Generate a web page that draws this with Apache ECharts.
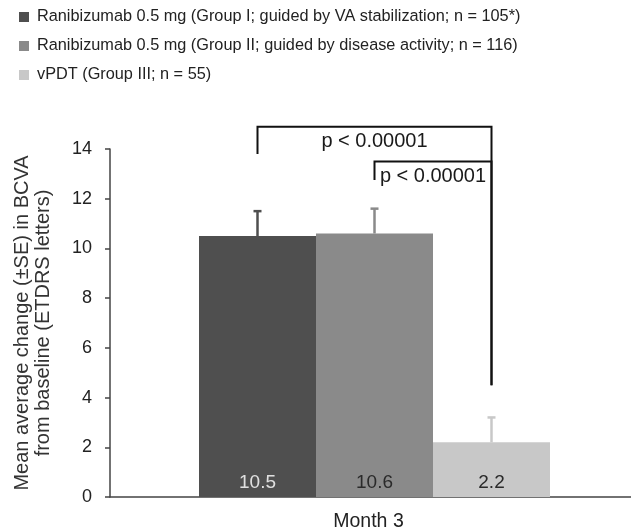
<!DOCTYPE html>
<html>
<head>
<meta charset="utf-8">
<script src="https://cdn.jsdelivr.net/npm/echarts@6/dist/echarts.min.js"></script>
<style>
  html, body { margin: 0; padding: 0; background: #fff; }
  #chart { width: 631px; height: 531px; }
</style>
</head>
<body>
<div id="chart"></div>
<script>
// 数据
var categories = ['Month 3'];
var groupNames = [
  'Ranibizumab 0.5 mg (Group I; guided by VA stabilization; n = 105*)',
  'Ranibizumab 0.5 mg (Group II; guided by disease activity; n = 116)',
  'vPDT (Group III; n = 55)'
];
var groupMeans = [10.5, 10.6, 2.2];
var groupSE = [1.0, 1.0, 1.0];
var groupColors = ['#4f4f4f', '#8a8a8a', '#c8c8c8'];
var labelColors = ['#e0e0e0', '#2a2a2a', '#2a2a2a'];
var yTicks = [0, 2, 4, 6, 8, 10, 12, 14];
// 显著性括号: [起始组, 结束组, 横线高度, 左脚底端, 右脚底端]
var brackets = [
  [0, 2, 14.9, 13.8, 4.5],
  [1, 2, 13.5, 12.75, 4.5]
];
var bracketLabels = ['p < 0.00001', 'p < 0.00001'];

var FONT = 'Liberation Sans, Arial, sans-serif';
var BAR_W = 117;

var chart = echarts.init(document.getElementById('chart'));

// 组内偏移 (三根柱子紧挨着)
function barOffset(idx) {
  return (idx - (groupNames.length - 1) / 2) * BAR_W;
}

var series = [];
groupNames.forEach(function (name, i) {
  series.push({
    name: name,
    type: 'bar',
    barWidth: BAR_W,
    barGap: '0%',
    itemStyle: { color: groupColors[i] },
    label: {
      show: true,
      position: 'insideBottom',
      distance: 5,
      fontSize: 19,
      fontFamily: FONT,
      color: labelColors[i],
      formatter: function (p) { return p.value.toFixed(1); }
    },
    data: [groupMeans[i]]
  });
});

// 误差线
series.push({
  type: 'custom',
  name: 'errors',
  silent: true,
  z: 5,
  data: groupMeans.map(function (m, i) { return [0, m, groupSE[i], i]; }),
  renderItem: function (params, api) {
    var idx = api.value(3);
    var base = api.coord([api.value(0), api.value(1)]);
    var top = api.coord([api.value(0), api.value(1) + api.value(2)]);
    var x = base[0] + barOffset(idx);
    var color = groupColors[idx];
    return {
      type: 'group',
      children: [
        { type: 'line', shape: { x1: x, y1: base[1], x2: x, y2: top[1] },
          style: { stroke: color, lineWidth: 2.5 } },
        { type: 'line', shape: { x1: x - 4, y1: top[1], x2: x + 4, y2: top[1] },
          style: { stroke: color, lineWidth: 2.5 } }
      ]
    };
  }
});

// 显著性括号
series.push({
  type: 'custom',
  name: 'brackets',
  silent: true,
  clip: false,
  z: 6,
  data: brackets,
  renderItem: function (params, api) {
    var c = api.coord([0, 0])[0];
    var x1 = c + barOffset(api.value(0));
    var x2 = c + barOffset(api.value(1));
    var yLine = api.coord([0, api.value(2)])[1];
    var yL = api.coord([0, api.value(3)])[1];
    var yR = api.coord([0, api.value(4)])[1];
    return {
      type: 'group',
      children: [
        { type: 'polyline', shape: { points: [[x1, yL], [x1, yLine], [x2, yLine], [x2, yR]] },
          style: { stroke: '#111', lineWidth: 2, fill: null } },
        { type: 'text', x: (x1 + x2) / 2, y: yLine + 15,
          style: { text: bracketLabels[params.dataIndex], fontSize: 20, fontFamily: FONT,
                   fill: '#1a1a1a', align: 'center', verticalAlign: 'middle' } }
      ]
    };
  }
});

var option = {
  backgroundColor: '#fff',
  animation: false,
  textStyle: { fontFamily: FONT },
  legend: {
    data: groupNames,
    orient: 'vertical',
    left: 14,
    top: 4,
    itemWidth: 10,
    itemHeight: 10,
    itemGap: 13,
    icon: 'rect',
    selectedMode: false,
    textStyle: { fontSize: 16.3, color: '#222', fontFamily: FONT, padding: [0, 0, 0, 3] }
  },
  grid: { left: 110, right: -8, top: 149, bottom: 34, outerBoundsMode: 'none', containLabel: false },
  xAxis: {
    type: 'category',
    data: categories,
    axisLine: { lineStyle: { color: '#444', width: 1.5 } },
    axisTick: { show: false },
    axisLabel: { fontSize: 19.5, color: '#222', margin: 15, fontFamily: FONT, padding: [0, 12, 0, 0] }
  },
  yAxis: {
    type: 'value',
    min: yTicks[0],
    max: yTicks[yTicks.length - 1],
    interval: 2,
    name: 'Mean average change (±SE) in BCVA\nfrom baseline (ETDRS letters)',
    nameLocation: 'middle',
    nameGap: 56,
    nameTextStyle: { fontSize: 20, color: '#333', lineHeight: 21, fontFamily: FONT },
    axisLine: { show: true, lineStyle: { color: '#444', width: 1.5 } },
    axisTick: { show: true, length: 5, lineStyle: { color: '#444', width: 1.5 } },
    axisLabel: { fontSize: 18, color: '#222', margin: 18, fontFamily: FONT },
    splitLine: { show: false }
  },
  series: series
};

chart.setOption(option);
</script>
</body>
</html>
